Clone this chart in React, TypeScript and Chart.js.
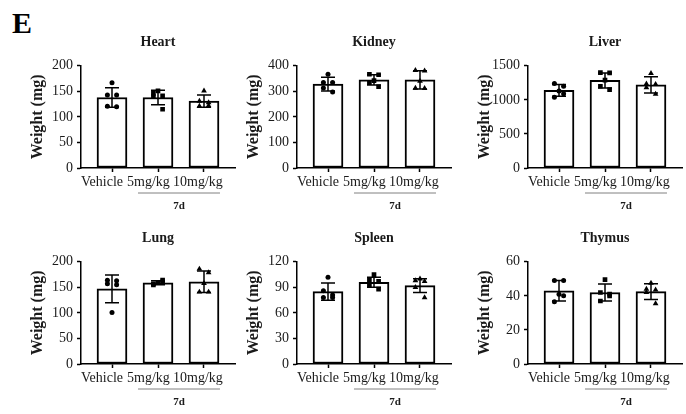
import React, { useEffect, useRef } from 'react';
import { Chart, registerables } from 'chart.js';
Chart.register(...registerables);

const categories = ['Vehicle', '5mg/kg', '10mg/kg'];
const groupLabel = '7d';
const yLabel = 'Weight (mg)';
const pointStyles = ['circle', 'rect', 'triangle'];
const jitter = [0, -0.1, 0.1, -0.1, 0.1];

const heartMean = [138, 138, 131];
const heartSD = [19, 14, 12];
const heartPoints = [[167, 143, 143, 121, 120], [151, 146, 141, 140, 115], [151, 131, 128, 121, 122]];

const kidneyMean = [328, 345, 345];
const kidneySD = [27, 20, 36];
const kidneyPoints = [[367, 335, 335, 313, 297], [342, 367, 365, 334, 318], [340, 382, 380, 313, 312]];

const liverMean = [1139, 1285, 1221];
const liverSD = [85, 110, 120];
const liverPoints = [[1130, 1240, 1200, 1040, 1090], [1290, 1400, 1395, 1200, 1150], [1390, 1235, 1230, 1180, 1085]];

const lungMean = [147, 159, 161];
const lungSD = [27, 4, 21];
const lungPoints = [[101, 164, 163, 157, 155], [159, 155, 161, 157, 164], [158, 186, 179, 141, 141]];

const spleenMean = [85, 96, 92];
const spleenSD = [10, 6, 8];
const spleenPoints = [[102, 78, 78, 86, 81], [105, 99, 97, 93, 88], [100, 98, 97, 90, 78]];

const thymusMean = [43, 42, 42.5];
const thymusSD = [6, 5, 4.6];
const thymusPoints = [[41, 49, 49, 36.5, 40], [49.5, 42, 41, 37, 40], [47.5, 44, 43.5, 42, 35.5]];

const titles = ['Heart', 'Kidney', 'Liver', 'Lung', 'Spleen', 'Thymus'];
const yMaxes = [200, 400, 1500, 200, 120, 60];
const ySteps = [50, 100, 500, 50, 30, 20];
const means = [heartMean, kidneyMean, liverMean, lungMean, spleenMean, thymusMean];
const sds = [heartSD, kidneySD, liverSD, lungSD, spleenSD, thymusSD];
const points = [heartPoints, kidneyPoints, liverPoints, lungPoints, spleenPoints, thymusPoints];

const FONT = "'Liberation Serif', 'Times New Roman', serif";
const TEXT = '#1a1a1a';
const CW = 239;
const CH = 212;
const panelPos = [
  [0, 0], [216, 0], [447, 0],
  [0, 196], [216, 196], [447, 196],
];

const errorBarPlugin = {
  id: 'errorBars',
  afterDatasetDraw(chart: any, args: any, opts: any) {
    if (args.index !== 0) return;
    const { ctx, scales } = chart;
    const x = scales.x, y = scales.y;
    ctx.save();
    ctx.strokeStyle = '#000';
    ctx.lineWidth = 1.5;
    (opts.mean as number[]).forEach((m, i) => {
      const s = opts.sd[i];
      const px = x.getPixelForValue(i);
      const t = y.getPixelForValue(m + s);
      const b = y.getPixelForValue(m - s);
      ctx.beginPath();
      ctx.moveTo(px, t); ctx.lineTo(px, b);
      ctx.moveTo(px - 7, t); ctx.lineTo(px + 7, t);
      ctx.moveTo(px - 7, b); ctx.lineTo(px + 7, b);
      ctx.stroke();
    });
    ctx.restore();
  },
};

const groupPlugin = {
  id: 'groupLine',
  afterDraw(chart: any, _args: any, opts: any) {
    const { ctx, scales, chartArea } = chart;
    const x = scales.x;
    const mid = (x.getPixelForValue(1) + x.getPixelForValue(2)) / 2 - 2;
    const ly = chartArea.bottom + 25;
    ctx.save();
    ctx.strokeStyle = '#808080';
    ctx.lineWidth = 1;
    ctx.beginPath();
    ctx.moveTo(mid - 41, ly);
    ctx.lineTo(mid + 41, ly);
    ctx.stroke();
    ctx.fillStyle = TEXT;
    ctx.font = `bold 11px ${FONT}`;
    ctx.textAlign = 'center';
    ctx.textBaseline = 'middle';
    ctx.fillText(opts.label, mid, chartArea.bottom + 38);
    ctx.restore();
  },
};

function Panel({ idx }: { idx: number }) {
  const ref = useRef<HTMLCanvasElement>(null);
  useEffect(() => {
    const mean = means[idx];
    const sd = sds[idx];
    const pts = points[idx];
    const chart = new Chart(ref.current as HTMLCanvasElement, {
      type: 'bar',
      data: {
        datasets: [
          {
            type: 'bar',
            data: mean.map((v, i) => ({ x: i, y: v })) as any,
            backgroundColor: '#ffffff',
            borderColor: '#000000',
            borderWidth: 2,
            borderSkipped: false,
            barThickness: 30,
            order: 5,
          } as any,
          ...pts.map((grp, g) => ({
            type: 'scatter',
            data: grp.map((v, k) => ({ x: g + jitter[k], y: v })),
            pointStyle: pointStyles[g],
            pointRadius: g === 0 ? 2.5 : 3.3,
            backgroundColor: '#000',
            borderColor: '#000',
            borderWidth: 0,
            order: 1,
          })) as any,
        ],
      },
      options: {
        animation: false,
        responsive: false,
        devicePixelRatio: 1,
        layout: { padding: { left: 0, right: 4, top: 0, bottom: 0 } },
        plugins: {
          legend: { display: false },
          tooltip: { enabled: false },
          title: {
            display: true,
            text: titles[idx],
            fullSize: false,
            color: TEXT,
            font: { family: FONT, size: 14, weight: 'bold' },
            padding: { top: 34, bottom: 15 },
          },
          errorBars: { mean, sd },
          groupLine: { label: groupLabel },
        } as any,
        scales: {
          x: {
            type: 'linear',
            offset: false,
            min: -0.674,
            max: 2.674,
            afterBuildTicks: (scale: any) => {
              scale.ticks = categories.map((_, i) => ({ value: i }));
            },
            afterFit: (scale: any) => {
              scale.height = CH - 168;
              scale.paddingLeft = 0;
              scale.paddingRight = 0;
            },
            ticks: {
              callback: (v: any) => categories[Math.round(Number(v))] ?? '',
              autoSkip: false,
              maxRotation: 0,
              minRotation: 0,
              align: 'start',
              labelOffset: -31,
              padding: 2,
              color: TEXT,
              font: { family: FONT, size: 14 },
            },
            grid: { display: true, offset: false, drawOnChartArea: false, drawTicks: true, tickLength: 4, tickWidth: 1.5, tickColor: '#000' },
            border: { display: true, color: '#000', width: 1.5 },
          },
          y: {
            min: 0,
            max: yMaxes[idx],
            afterFit: (scale: any) => {
              scale.width = 81;
              scale.paddingTop = 0;
              scale.paddingBottom = 0;
            },
            ticks: {
              stepSize: ySteps[idx],
              callback: (v: any) => String(v),
              padding: 4,
              color: TEXT,
              font: { family: FONT, size: 14 },
            },
            title: {
              display: true,
              text: yLabel,
              color: TEXT,
              font: { family: FONT, size: 16, weight: 'bold' },
              padding: { top: 28, bottom: 0 },
            },
            grid: { display: true, drawOnChartArea: false, drawTicks: true, tickLength: 4, tickWidth: 1.5, tickColor: '#000' },
            border: { display: true, color: '#000', width: 1.5 },
          },
        },
      } as any,
      plugins: [errorBarPlugin, groupPlugin],
    });
    return () => chart.destroy();
  }, [idx]);
  const [l, t] = panelPos[idx];
  return (
    <canvas
      ref={ref}
      width={CW}
      height={CH}
      style={{ position: 'absolute', left: l, top: t, width: CW, height: CH }}
    />
  );
}

export default function App() {
  return (
    <div style={{ position: 'absolute', left: 0, top: 0, width: 686, height: 414, background: '#fff', overflow: 'hidden' }}>
      <div style={{ position: 'absolute', left: 12, top: 8, font: `bold 30px/30px ${FONT}`, color: '#000' }}>E</div>
      {titles.map((_, i) => <Panel key={i} idx={i} />)}
    </div>
  );
}
